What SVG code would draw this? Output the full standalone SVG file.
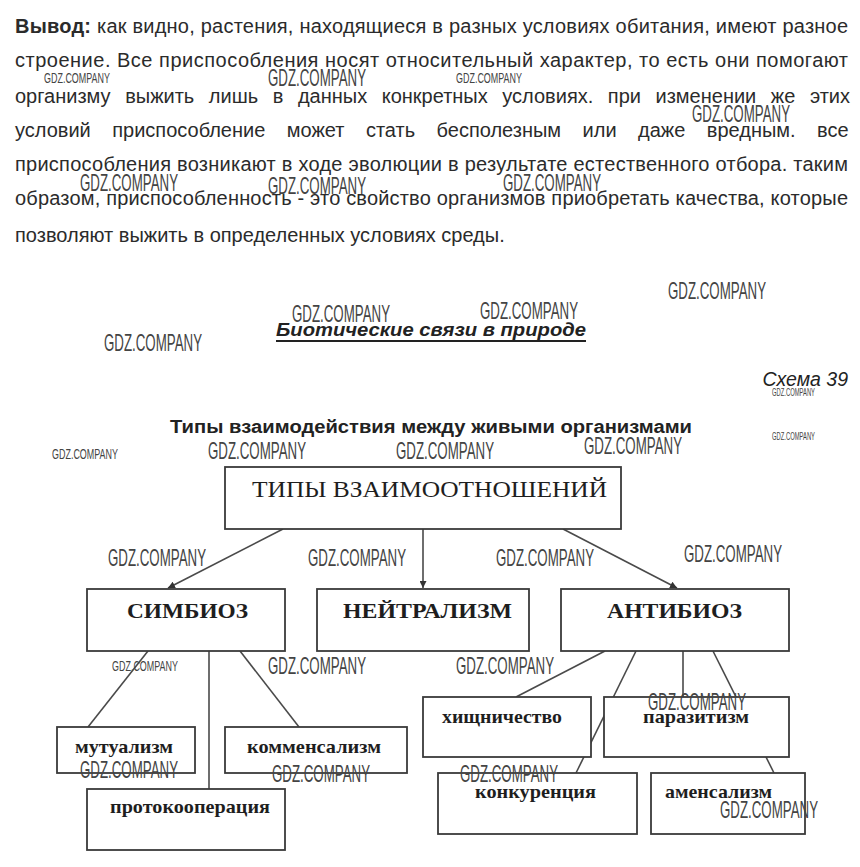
<svg xmlns="http://www.w3.org/2000/svg" width="860" height="867" viewBox="0 0 860 867">
<defs>
<style>
.p{font-family:"Liberation Sans",Arial,sans-serif;font-size:20px;fill:#2b2b2b}
.h{font-family:"Liberation Sans",Arial,sans-serif;fill:#222}
.box{fill:#fff;stroke:#3a3a3a;stroke-width:1.8}
.bt{font-family:"Liberation Serif","Times New Roman",serif;fill:#1e1e1e}
.big{font-size:23px}
.mid{font-size:21px;font-weight:bold}
.low{font-size:19px;font-weight:bold}
.ln{stroke:#4a4a4a;stroke-width:1.6;fill:none}
.wm{font-family:"Liberation Sans",Arial,sans-serif;fill:#444}
.wl{font-size:24px}
.ws{font-size:15px}
.wt{font-size:10px}
</style>
<marker id="ah" viewBox="0 0 10 10" refX="10" refY="5" markerWidth="7" markerHeight="7" markerUnits="userSpaceOnUse" orient="auto">
<path d="M0,0 L10,5 L0,10 z" fill="#333"/>
</marker>
</defs>
<rect width="860" height="867" fill="#fff"/>

<g id="paragraph">
<text class="p" x="15" y="33" textLength="833" lengthAdjust="spacing"><tspan font-weight="bold">Вывод:</tspan> как видно, растения, находящиеся в разных условиях обитания, имеют разное</text>
<text class="p" x="15" y="67" textLength="833" lengthAdjust="spacing">строение. Все приспособления носят относительный характер, то есть они помогают</text>
<text class="p" x="15" y="103" word-spacing="9">организму выжить лишь в данных конкретных условиях. при изменении же этих</text>
<text class="p" x="15" y="137" word-spacing="15.9">условий приспособление может стать бесполезным или даже вредным. все</text>
<text class="p" x="15" y="171" textLength="833" lengthAdjust="spacing">приспособления возникают в ходе эволюции в результате естественного отбора. таким</text>
<text class="p" x="15" y="205" textLength="833" lengthAdjust="spacing">образом, приспособленность - это свойство организмов приобретать качества, которые</text>
<text class="p" x="15" y="242">позволяют выжить в определенных условиях среды.</text>
</g>

<g id="titles">
<text class="h" x="276" y="336" font-size="18.5" font-weight="bold" font-style="italic" textLength="310" lengthAdjust="spacingAndGlyphs">Биотические связи в природе</text>
<line x1="276" y1="341" x2="586" y2="341" stroke="#222" stroke-width="2"/>
<text class="h" x="848" y="386" font-size="19.5" font-style="italic" text-anchor="end" fill="#333">Схема 39</text>
<text class="h" x="170" y="433" font-size="18" font-weight="bold" textLength="522" lengthAdjust="spacingAndGlyphs">Типы взаимодействия между живыми организмами</text>
</g>

<g id="connectors">
<line class="ln" x1="283" y1="529" x2="168" y2="588" marker-end="url(#ah)"/>
<line class="ln" x1="423" y1="529" x2="423" y2="588" marker-end="url(#ah)"/>
<line class="ln" x1="563" y1="529" x2="677" y2="588" marker-end="url(#ah)"/>
<line class="ln" x1="148" y1="651" x2="88" y2="727"/>
<line class="ln" x1="209" y1="651" x2="209" y2="789"/>
<line class="ln" x1="240" y1="651" x2="299" y2="727"/>
<line class="ln" x1="605" y1="651" x2="516" y2="697"/>
<line class="ln" x1="636" y1="651" x2="576" y2="773"/>
<line class="ln" x1="683" y1="651" x2="683" y2="697"/>
<line class="ln" x1="713" y1="651" x2="774" y2="773"/>
</g>

<g id="n-types">
<rect class="box" x="225" y="467" width="396" height="62"/>
<text class="bt big" x="252" y="497" textLength="355" lengthAdjust="spacingAndGlyphs">ТИПЫ ВЗАИМООТНОШЕНИЙ</text>
</g>
<g id="n-symbiosis">
<rect class="box" x="87" y="589" width="198" height="62"/>
<text class="bt mid" x="127" y="618" textLength="121" lengthAdjust="spacingAndGlyphs">СИМБИОЗ</text>
</g>
<g id="n-neutralism">
<rect class="box" x="317" y="589" width="212" height="62"/>
<text class="bt mid" x="343" y="618" textLength="169" lengthAdjust="spacingAndGlyphs">НЕЙТРАЛИЗМ</text>
</g>
<g id="n-antibiosis">
<rect class="box" x="561" y="589" width="228" height="62"/>
<text class="bt mid" x="607" y="618" textLength="135" lengthAdjust="spacingAndGlyphs">АНТИБИОЗ</text>
</g>
<g id="n-mutualism">
<rect class="box" x="57" y="727" width="138" height="46"/>
<text class="bt low" x="75" y="753" textLength="98" lengthAdjust="spacingAndGlyphs">мутуализм</text>
</g>
<g id="n-commensalism">
<rect class="box" x="225" y="727" width="182" height="46"/>
<text class="bt low" x="247" y="753" textLength="134" lengthAdjust="spacingAndGlyphs">комменсализм</text>
</g>
<g id="n-protocooperation">
<rect class="box" x="87" y="789" width="198" height="61"/>
<text class="bt low" x="110" y="813" textLength="160" lengthAdjust="spacingAndGlyphs">протокооперация</text>
</g>
<g id="n-predation">
<rect class="box" x="423" y="697" width="168" height="60"/>
<text class="bt low" x="442" y="723" textLength="120" lengthAdjust="spacingAndGlyphs">хищничество</text>
</g>
<g id="n-parasitism">
<rect class="box" x="604" y="697" width="185" height="60"/>
<text class="bt low" x="643" y="723" textLength="106" lengthAdjust="spacingAndGlyphs">паразитизм</text>
</g>
<g id="n-competition">
<rect class="box" x="438" y="773" width="199" height="61"/>
<text class="bt low" x="475" y="798" textLength="121" lengthAdjust="spacingAndGlyphs">конкуренция</text>
</g>
<g id="n-amensalism">
<rect class="box" x="651" y="773" width="154" height="61"/>
<text class="bt low" x="665" y="798" textLength="107" lengthAdjust="spacingAndGlyphs">аменсализм</text>
</g>

<g id="watermarks" class="wm">
<text class="ws" x="44" y="83" textLength="66" lengthAdjust="spacingAndGlyphs">GDZ.COMPANY</text>
<text class="wl" x="268" y="86" textLength="98" lengthAdjust="spacingAndGlyphs">GDZ.COMPANY</text>
<text class="ws" x="456" y="83" textLength="66" lengthAdjust="spacingAndGlyphs">GDZ.COMPANY</text>
<text class="wl" x="692" y="122" textLength="98" lengthAdjust="spacingAndGlyphs">GDZ.COMPANY</text>
<text class="wl" x="80" y="191" textLength="98" lengthAdjust="spacingAndGlyphs">GDZ.COMPANY</text>
<text class="wl" x="268" y="194" textLength="98" lengthAdjust="spacingAndGlyphs">GDZ.COMPANY</text>
<text class="wl" x="503" y="191" textLength="98" lengthAdjust="spacingAndGlyphs">GDZ.COMPANY</text>
<text class="wl" x="668" y="299" textLength="98" lengthAdjust="spacingAndGlyphs">GDZ.COMPANY</text>
<text class="wl" x="292" y="322" textLength="98" lengthAdjust="spacingAndGlyphs">GDZ.COMPANY</text>
<text class="wl" x="480" y="319" textLength="98" lengthAdjust="spacingAndGlyphs">GDZ.COMPANY</text>
<text class="wl" x="104" y="351" textLength="98" lengthAdjust="spacingAndGlyphs">GDZ.COMPANY</text>
<text class="wt" x="772" y="396" textLength="43" lengthAdjust="spacingAndGlyphs">GDZ.COMPANY</text>
<text class="wt" x="772" y="440" textLength="43" lengthAdjust="spacingAndGlyphs">GDZ.COMPANY</text>
<text class="ws" x="52" y="459" textLength="66" lengthAdjust="spacingAndGlyphs">GDZ.COMPANY</text>
<text class="wl" x="208" y="459" textLength="98" lengthAdjust="spacingAndGlyphs">GDZ.COMPANY</text>
<text class="wl" x="396" y="459" textLength="98" lengthAdjust="spacingAndGlyphs">GDZ.COMPANY</text>
<text class="wl" x="584" y="454" textLength="98" lengthAdjust="spacingAndGlyphs">GDZ.COMPANY</text>
<text class="wl" x="108" y="566" textLength="98" lengthAdjust="spacingAndGlyphs">GDZ.COMPANY</text>
<text class="wl" x="308" y="566" textLength="98" lengthAdjust="spacingAndGlyphs">GDZ.COMPANY</text>
<text class="wl" x="496" y="566" textLength="98" lengthAdjust="spacingAndGlyphs">GDZ.COMPANY</text>
<text class="wl" x="684" y="562" textLength="98" lengthAdjust="spacingAndGlyphs">GDZ.COMPANY</text>
<text class="ws" x="112" y="671" textLength="66" lengthAdjust="spacingAndGlyphs">GDZ.COMPANY</text>
<text class="wl" x="268" y="674" textLength="98" lengthAdjust="spacingAndGlyphs">GDZ.COMPANY</text>
<text class="wl" x="456" y="674" textLength="98" lengthAdjust="spacingAndGlyphs">GDZ.COMPANY</text>
<text class="wl" x="648" y="710" textLength="98" lengthAdjust="spacingAndGlyphs">GDZ.COMPANY</text>
<text class="wl" x="80" y="778" textLength="98" lengthAdjust="spacingAndGlyphs">GDZ.COMPANY</text>
<text class="wl" x="272" y="782" textLength="98" lengthAdjust="spacingAndGlyphs">GDZ.COMPANY</text>
<text class="wl" x="460" y="782" textLength="98" lengthAdjust="spacingAndGlyphs">GDZ.COMPANY</text>
<text class="wl" x="720" y="818" textLength="98" lengthAdjust="spacingAndGlyphs">GDZ.COMPANY</text>
</g>
</svg>
